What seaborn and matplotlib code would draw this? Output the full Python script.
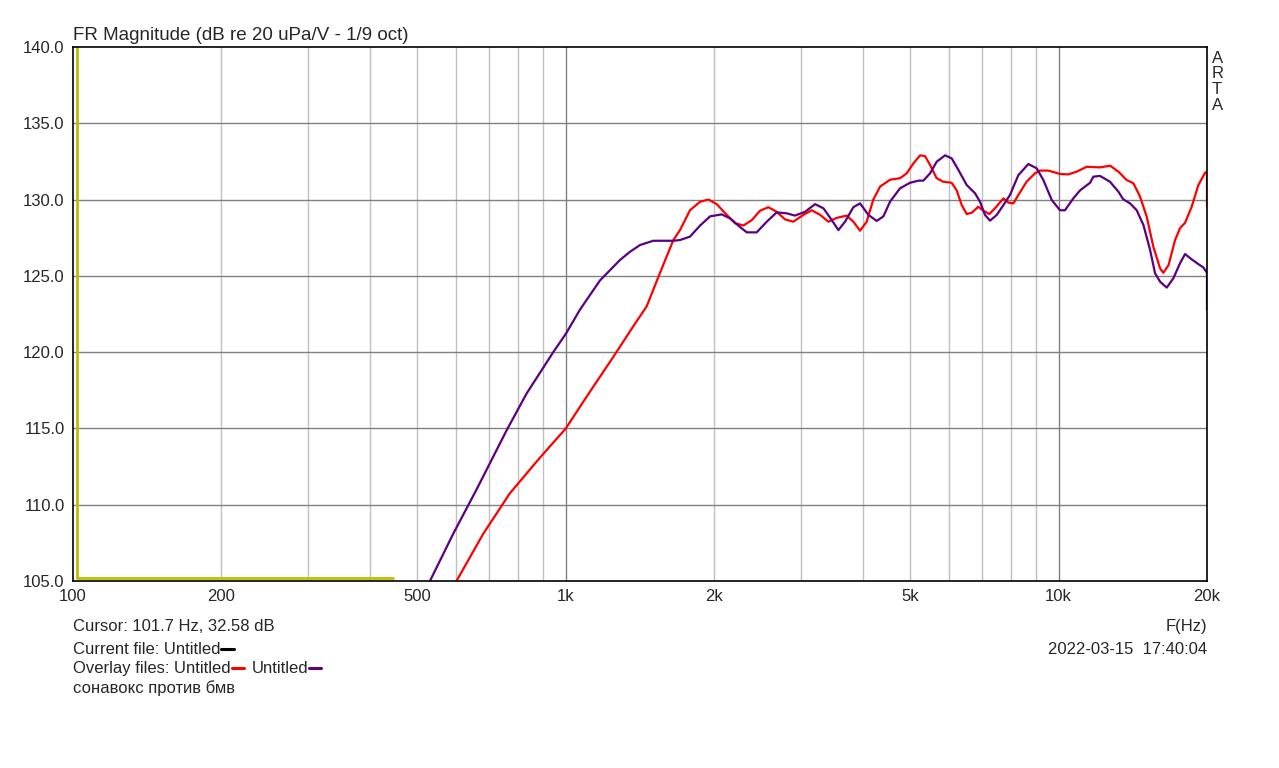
import matplotlib
matplotlib.use("Agg")
import matplotlib.pyplot as plt
import matplotlib.ticker as mticker
from matplotlib.lines import Line2D
import seaborn as sns
import numpy as np
import pandas as pd

# overlay 1 (red)
red_f = [600, 680, 770, 887, 1000, 1103, 1249, 1371, 1459, 1553, 1653, 1705, 1786, 1873,
         1947, 2024, 2121, 2205, 2293, 2384, 2478, 2576, 2678, 2785, 2895, 3035, 3155, 3280,
         3410, 3545, 3715, 3832, 3954, 4078, 4207, 4342, 4548, 4766, 4917, 5072, 5235, 5357,
         5483, 5656, 5834, 6067, 6211, 6358, 6509, 6663, 6870, 7034, 7234, 7428, 7726, 7907,
         8093, 8284, 8610, 8954, 9166, 9528, 10065, 10464, 10882, 11400, 12130, 12720, 13220,
         13740, 14180, 14630, 15090, 15570, 16060, 16310, 16710, 17230, 17630, 18050, 18620,
         19210, 19820, 20000, 20000]
red_db = [105.0, 108.1, 110.75, 113.1, 115.0, 117.1, 119.7, 121.7, 123.0, 125.2, 127.35,
          128.0, 129.3, 129.86, 130.0, 129.7, 129.0, 128.45, 128.3, 128.65, 129.27, 129.5,
          129.2, 128.7, 128.55, 129.0, 129.3, 129.0, 128.55, 128.8, 128.95, 128.55, 127.96,
          128.55, 130.0, 130.85, 131.3, 131.4, 131.72, 132.37, 132.9, 132.85, 132.27, 131.4,
          131.17, 131.1, 130.6, 129.64, 129.05, 129.14, 129.53, 129.27, 129.05, 129.43,
          130.08, 129.8, 129.75, 130.3, 131.17, 131.72, 131.9, 131.9, 131.68, 131.65, 131.83,
          132.15, 132.11, 132.22, 131.83, 131.28, 131.07, 130.19, 128.88, 126.9, 125.5, 125.2,
          125.7, 127.35, 128.12, 128.48, 129.53, 130.95, 131.76, 131.83, 129.55]

# overlay 2 (purple)
pur_f = [530, 591, 659, 759, 833, 943, 1000, 1069, 1173, 1249, 1288, 1350, 1414, 1505,
         1653, 1705, 1786, 1873, 1962, 2071, 2154, 2257, 2329, 2439, 2557, 2678, 2807, 2917,
         3058, 3204, 3332, 3464, 3573, 3686, 3832, 3954, 4110, 4274, 4410, 4548, 4766, 4994,
         5192, 5315, 5483, 5656, 5883, 6067, 6260, 6509, 6767, 6925, 7089, 7257, 7487, 7726,
         7966, 8284, 8680, 9024, 9311, 9683, 10065, 10301, 10711, 11049, 11580, 11760, 12130,
         12710, 13220, 13520, 13960, 14400, 14860, 15330, 15690, 16060, 16570, 17090, 17630,
         18050, 18620, 19210, 19660, 20000, 20000]
pur_db = [105.0, 108.1, 111.0, 114.9, 117.3, 120.0, 121.2, 122.8, 124.7, 125.6, 126.04,
          126.58, 127.02, 127.3, 127.3, 127.35, 127.57, 128.3, 128.9, 129.03, 128.77, 128.2,
          127.85, 127.85, 128.55, 129.16, 129.1, 128.95, 129.2, 129.7, 129.43, 128.66, 128.0,
          128.55, 129.5, 129.75, 129.0, 128.6, 128.9, 129.86, 130.74, 131.1, 131.24, 131.24,
          131.72, 132.48, 132.9, 132.7, 131.94, 130.95, 130.41, 129.86, 128.99, 128.62,
          128.99, 129.64, 130.3, 131.6, 132.33, 132.05, 131.28, 129.97, 129.3, 129.3, 130.08,
          130.6, 131.1, 131.5, 131.55, 131.17, 130.52, 130.02, 129.75, 129.3, 128.33, 126.7,
          125.17, 124.62, 124.23, 124.84, 125.82, 126.43, 126.08, 125.77, 125.55, 125.2, 122.8]

# cursor marker (yellow)
cur_f = [101.7, 101.7, 446]
cur_db = [140.0, 105.18, 105.18]

xticks = [100, 200, 500, 1000, 2000, 5000, 10000, 20000]
xlabels = ["100", "200", "500", "1k", "2k", "5k", "10k", "20k"]
yticks = [105, 110, 115, 120, 125, 130, 135, 140]

sns.set_style("white")
plt.rcParams['font.family'] = ['Liberation Sans', 'DejaVu Sans']

fig = plt.figure(figsize=(12.79, 7.68), dpi=100)
ax = fig.add_axes([73 / 1279, 1 - 581 / 768, (1207 - 73) / 1279, (581 - 47) / 768])
ax.set_xscale("log")
ax.set_xlim(100, 20000)
ax.set_ylim(105, 140)

# grid
minor = [m * d for d in (100, 1000, 10000) for m in range(2, 10) if m * d < 20000]
for f in minor:
    ax.axvline(f, color="#c0c0c0", lw=1, zorder=0)
for f in (1000, 10000):
    ax.axvline(f, color="#808080", lw=1, zorder=0)
for v in yticks[1:-1]:
    ax.axhline(v, color="#808080", lw=1, zorder=0)

sns.lineplot(x=cur_f, y=cur_db, ax=ax, color="#bfbf00", lw=2, sort=False, estimator=None)
sns.lineplot(x=red_f, y=red_db, ax=ax, color="#ff0000", lw=1.6, sort=False, estimator=None)
sns.lineplot(x=pur_f, y=pur_db, ax=ax, color="#5a0080", lw=1.6, sort=False, estimator=None)

ax.xaxis.set_major_locator(mticker.FixedLocator(xticks))
ax.xaxis.set_minor_locator(mticker.NullLocator())
ax.set_xticklabels(xlabels)
ax.set_yticks(yticks)
ax.set_yticklabels([f"{v:.1f}" for v in yticks])
ax.tick_params(length=0, labelsize=12, pad=6)
ax.set_xlabel("")
ax.set_ylabel("")
for s in ax.spines.values():
    s.set_color("black")
    s.set_linewidth(1.2)

fs = 12
W, H = 1279, 768
def px(x, y):
    return x / W, 1 - y / H

fig.text(*px(73, 40), "FR Magnitude (dB re 20 uPa/V - 1/9 oct)", fontsize=13.5, va="baseline")
for i, ch in enumerate("ARTA"):
    fig.text(*px(1212, 63 + i * 15.5), ch, fontsize=fs, va="baseline")

fig.text(*px(73, 631), "Cursor: 101.7 Hz, 32.58 dB", fontsize=fs, va="baseline")
t1 = fig.text(*px(73, 654), "Current file: Untitled", fontsize=fs, va="baseline")
t2 = fig.text(*px(73, 673), "Overlay files: Untitled", fontsize=fs, va="baseline")
fig.text(*px(73, 693), "сонавокс против бмв", fontsize=fs, va="baseline")
fig.text(*px(1207, 631), "F(Hz)", fontsize=fs, va="baseline", ha="right")
fig.text(*px(1207, 654), "2022-03-15  17:40:04", fontsize=fs, va="baseline", ha="right")

fig.canvas.draw()
r = fig.canvas.get_renderer()

def dash(txt, color, y_px):
    bb = txt.get_window_extent(r)
    y = H - (y_px - 5)
    fig.add_artist(Line2D([(bb.x1 + 1) / W, (bb.x1 + 13) / W], [y / H, y / H],
                          color=color, lw=2.2, transform=fig.transFigure))
    return bb

dash(t1, "black", 654)
bb = dash(t2, "#ff0000", 673)
t3 = fig.text((bb.x1 + 21) / W, 1 - 673 / H, "Untitled", fontsize=fs, va="baseline")
fig.canvas.draw()
dash(t3, "#5a0080", 673)

fig.savefig("out.png", dpi=100)
